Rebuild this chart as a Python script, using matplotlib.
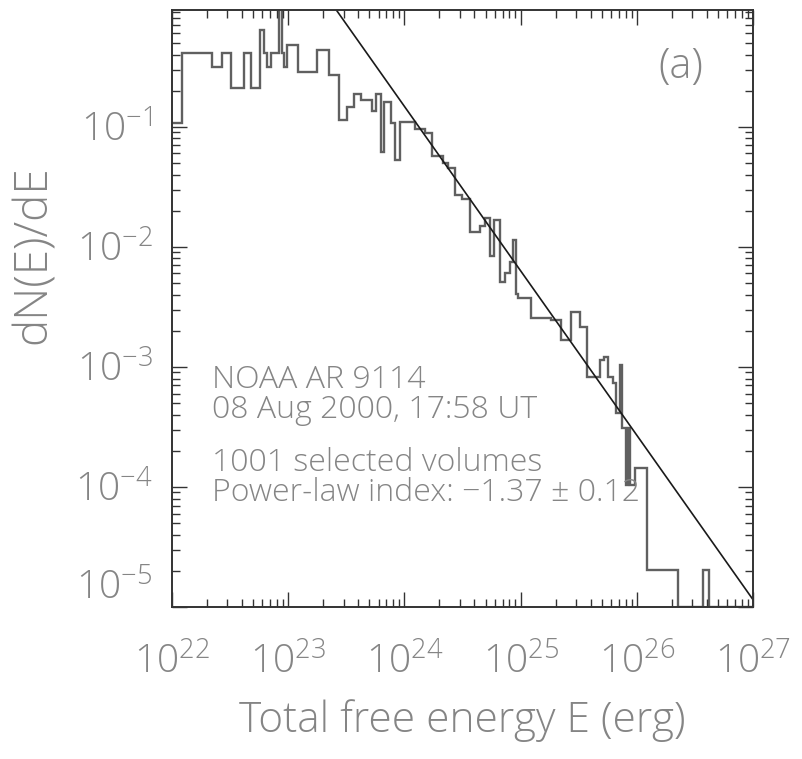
import numpy as np
import matplotlib
matplotlib.use("Agg")
import matplotlib.pyplot as plt
from matplotlib.ticker import LogLocator, FixedLocator, FuncFormatter, NullFormatter
from matplotlib.transforms import ScaledTranslation

plt.rcParams['font.family'] = ['Open Sans', 'DejaVu Sans']
plt.rcParams['font.weight'] = 300
plt.rcParams['axes.labelweight'] = 300
plt.rcParams['mathtext.fontset'] = 'custom'
plt.rcParams['mathtext.rm'] = 'Open Sans:weight=300'
plt.rcParams['mathtext.it'] = 'Open Sans:weight=300'

# histogram bin edges (log10 of energy in erg) and dN/dE in each bin (log10)
log_e_edges = [22.000, 22.086, 22.347, 22.432, 22.507, 22.622, 22.679, 22.757,
               22.791, 22.817, 22.851, 22.924, 22.946, 22.966, 22.986, 23.086,
               23.244, 23.353, 23.439, 23.505, 23.567, 23.629, 23.717, 23.758,
               23.795, 23.823, 23.887, 23.917, 23.965, 24.089, 24.175, 24.238,
               24.330, 24.373, 24.433, 24.491, 24.568, 24.648, 24.691, 24.734,
               24.769, 24.820, 24.863, 24.906, 24.936, 24.958, 24.979, 25.093,
               25.265, 25.351, 25.437, 25.508, 25.571, 25.680, 25.715, 25.752,
               25.795, 25.824, 25.858, 25.875, 25.904, 25.921, 25.938, 25.981,
               26.089, 26.353, 26.568, 26.617, 27.000]
log_dnde = [-0.967, -0.381, -0.500, -0.381, -0.673, -0.381, -0.673, -0.197,
            -0.381, -0.500, -0.381, 0.100, -0.381, -0.500, -0.317, -0.547,
            -0.364, -0.567, -0.942, -0.831, -0.728, -0.775, -0.872, -0.728,
            -1.206, -0.789, -0.969, -1.280, -0.961, -1.019, -1.050, -1.247,
            -1.300, -1.344, -1.567, -1.603, -1.872, -1.830, -1.760, -2.080,
            -1.775, -2.290, -2.220, -2.130, -1.940, -2.390, -2.430, -2.590,
            -2.610, -2.775, -2.544, -2.670, -3.080, -2.940, -2.915, -3.080,
            -3.136, -3.386, -2.983, -3.510, -3.980, -3.510, -3.980, -3.844,
            -4.690, -5.000, -4.690, -5.000]

# power-law fit
fit_index = -1.37
fit_error = 0.12
fit_pivot_log_e = 25.0
fit_pivot_log_y = -2.2

n_volumes = 1001
region = "NOAA AR 9114"
obs_time = "08 Aug 2000, 17:58 UT"

edges = 10.0 ** np.array(log_e_edges)
vals = 10.0 ** np.array(log_dnde)

txt_color = '#858585'

fig = plt.figure(figsize=(8.02, 7.59), dpi=100)
ax = fig.add_axes([0.2145, 0.2003, 0.7245, 0.7865])

ax.stairs(vals, edges, color='#606060', lw=1.7, baseline=None)

e_fit = np.logspace(22, 27, 200)
y_fit = 10.0 ** (fit_pivot_log_y + fit_index * (np.log10(e_fit) - fit_pivot_log_e))
ax.plot(e_fit, y_fit, color='#1a1a1a', lw=1.2)

ax.set_xscale('log')
ax.set_yscale('log')
ax.set_xlim(1e22, 1e27)
ax.set_ylim(1e-5, 0.94)

ax.xaxis.set_major_locator(FixedLocator(10.0 ** np.arange(22, 28)))
ax.yaxis.set_major_locator(FixedLocator(10.0 ** np.arange(-5, 0)))
ax.xaxis.set_minor_locator(LogLocator(base=10, subs=np.arange(2, 10), numticks=20))
ax.yaxis.set_minor_locator(LogLocator(base=10, subs=np.arange(2, 10), numticks=20))
ax.xaxis.set_minor_formatter(NullFormatter())
ax.yaxis.set_minor_formatter(NullFormatter())
fmt = FuncFormatter(lambda v, p: r'$\mathregular{10^{%d}}$' % round(np.log10(v)))
ax.xaxis.set_major_formatter(fmt)
ax.yaxis.set_major_formatter(fmt)

ax.tick_params(which='both', direction='in', top=True, right=True,
               color='#333333', width=1.0)
ax.tick_params(which='major', length=11)
ax.tick_params(which='minor', length=5.5)
ax.tick_params(axis='x', which='major', labelsize=28, labelcolor=txt_color, pad=26)
ax.tick_params(axis='y', which='major', labelsize=28, labelcolor=txt_color, pad=14)

for sp in ax.spines.values():
    sp.set_color('#333333')
    sp.set_linewidth(1.4)

# lowest y label sits a bit higher, clear of the x labels
lowest = ax.yaxis.get_major_ticks()[0].label1
lowest.set_transform(lowest.get_transform() + ScaledTranslation(0, 0.22, fig.dpi_scale_trans))

ax.set_xlabel('Total free energy E (erg)', fontsize=30.5, color=txt_color, labelpad=12)
ax.set_ylabel('dN(E)/dE', fontsize=33, color=txt_color)
ax.yaxis.set_label_coords(-0.198, 0.59)

ax.text(0.875, 0.905, '(a)', transform=ax.transAxes, fontsize=30, color=txt_color,
        ha='center', va='center')

# two blocks of annotation: the region/time, then the fit summary
info_lines = [(0.380, region), (0.330, obs_time),
              (0.241, '%d selected volumes' % n_volumes),
              (0.191, 'Power-law index: %.2f \u00b1 %.2f' % (fit_index, fit_error))]
for ty, line in info_lines:
    ax.text(0.069, ty, line.replace('-1', '\u22121'), transform=ax.transAxes,
            fontsize=23, color=txt_color, ha='left', va='center')

fig.savefig('out.png', dpi=100)
